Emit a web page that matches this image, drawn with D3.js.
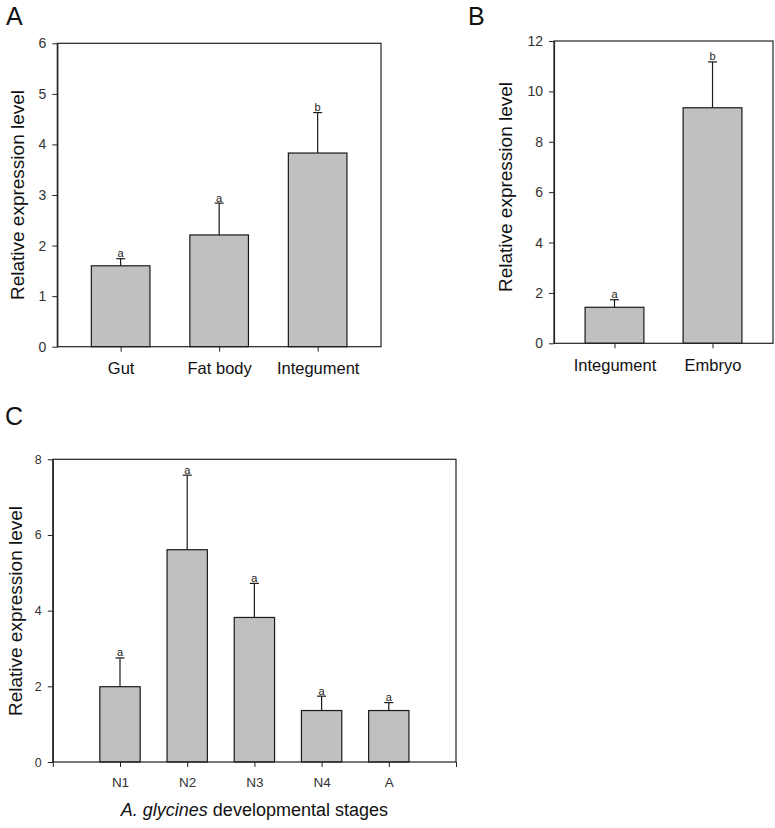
<!DOCTYPE html>
<html>
<head>
<meta charset="utf-8">
<script src="https://cdn.jsdelivr.net/npm/d3@7"></script>
<style>
  html, body { margin: 0; padding: 0; background: #fff; }
  svg { display: block; font-family: "Liberation Sans", Arial, sans-serif; }
</style>
</head>
<body>
<svg id="chart" width="775" height="828"></svg>
<script>
// ---- Data ----
const catsA = ["Gut", "Fat body", "Integument"];
const valsA = [1.60, 2.21, 3.83];
const errA = [0.14, 0.63, 0.80];
const lettersA = ["a", "a", "b"];
const ticksA = [0, 1, 2, 3, 4, 5, 6];

const catsB = ["Integument", "Embryo"];
const valsB = [1.43, 9.35];
const errB = [0.30, 1.82];
const lettersB = ["a", "b"];
const ticksB = [0, 2, 4, 6, 8, 10, 12];

const catsC = ["N1", "N2", "N3", "N4", "A"];
const valsC = [1.99, 5.61, 3.82, 1.36, 1.36];
const errC = [0.76, 1.97, 0.90, 0.38, 0.21];
const lettersC = ["a", "a", "a", "a", "a"];
const ticksC = [0, 2, 4, 6, 8];

const yTitle = "Relative expression level";

const svg = d3.select("#chart");
const AXIS = "#222";
const TXT = "#333";

function drawYAxis(g, y, ticks, left, fontSize) {
  const ax = d3.axisLeft(y).tickValues(ticks).tickSize(5).tickSizeOuter(0).tickPadding(6).tickFormat(d3.format("d"));
  const ga = g.append("g").attr("transform", `translate(${left},0)`).call(ax);
  ga.selectAll("path").attr("stroke", AXIS).attr("stroke-width", 1.2);
  ga.selectAll("line").attr("stroke", AXIS);
  ga.selectAll("text").attr("fill", TXT).style("font-size", fontSize + "px").style("font-family", "Liberation Sans, Arial, sans-serif");
}

function drawBars(g, data, xPos, y, barW) {
  // bars
  g.selectAll("rect.bar").data(data).enter().append("rect")
    .attr("class", "bar")
    .attr("x", d => xPos(d) - barW / 2)
    .attr("width", barW)
    .attr("y", d => y(d.v))
    .attr("height", d => y(0) - y(d.v))
    .attr("fill", "#c0c0c0")
    .attr("stroke", "#1a1a1a")
    .attr("stroke-width", 1.2);
  // error bars
  g.selectAll("line.err").data(data).enter().append("line")
    .attr("class", "err")
    .attr("x1", d => xPos(d)).attr("x2", d => xPos(d))
    .attr("y1", d => y(d.v)).attr("y2", d => y(d.v + d.e))
    .attr("stroke", "#1a1a1a").attr("stroke-width", 1.2);
  g.selectAll("line.cap").data(data).enter().append("line")
    .attr("class", "cap")
    .attr("x1", d => xPos(d) - 4.5).attr("x2", d => xPos(d) + 4.5)
    .attr("y1", d => y(d.v + d.e)).attr("y2", d => y(d.v + d.e))
    .attr("stroke", "#1a1a1a").attr("stroke-width", 1.2);
  g.selectAll("text.sig").data(data).enter().append("text")
    .attr("class", "sig")
    .attr("x", d => xPos(d))
    .attr("y", d => y(d.v + d.e) - 1.5)
    .attr("text-anchor", "middle")
    .attr("fill", "#222")
    .style("font-size", "11px")
    .text(d => d.l);
}

function frame(g, x0, x1, y0, y1) {
  g.append("rect").attr("x", x0).attr("y", y1).attr("width", x1 - x0).attr("height", y0 - y1)
    .attr("fill", "none").attr("stroke", AXIS).attr("stroke-width", 1.2);
}

function yLabel(g, x, yc, size) {
  g.append("text").attr("transform", `translate(${x},${yc}) rotate(-90)`)
    .attr("text-anchor", "middle").attr("fill", "#111")
    .style("font-size", size + "px").text(yTitle);
}

// ---- Panel A ----
(function () {
  const g = svg.append("g");
  const L = 57.3, R = 381, T = 43.3, B = 346.7;
  const y = d3.scaleLinear().domain([0, 6]).range([B, T]);
  const x = d3.scalePoint().domain(catsA).range([L, R]).padding(0.643);
  const data = catsA.map((c, i) => ({ c, v: valsA[i], e: errA[i], l: lettersA[i] }));
  const barW = x.step() * 0.595;
  drawBars(g, data, d => x(d.c), y, barW);
  frame(g, L, R, B, T);
  drawYAxis(g, y, ticksA, L, 14);
  const ax = d3.axisBottom(x).tickSize(5).tickSizeOuter(0).tickPadding(10.8);
  const ga = g.append("g").attr("transform", `translate(0,${B})`).call(ax);
  ga.select("path").remove();
  ga.selectAll("line").attr("stroke", AXIS);
  ga.selectAll("text").attr("fill", "#111").style("font-size", "16.5px").style("font-family", "Liberation Sans, Arial, sans-serif");
  yLabel(g, 24, 195, 19);
  g.append("text").attr("x", 6).attr("y", 25).attr("fill", "#111").style("font-size", "25px").text("A");
})();

// ---- Panel B ----
(function () {
  const g = svg.append("g");
  const L = 554, R = 773, T = 41, B = 343.3;
  const y = d3.scaleLinear().domain([0, 12]).range([B, T]);
  const x = d3.scalePoint().domain(catsB).range([L, R]).padding(0.617);
  const data = catsB.map((c, i) => ({ c, v: valsB[i], e: errB[i], l: lettersB[i] }));
  const barW = x.step() * 0.6;
  drawBars(g, data, d => x(d.c), y, barW);
  frame(g, L, R, B, T);
  drawYAxis(g, y, ticksB, L, 14);
  const ax = d3.axisBottom(x).tickSize(5).tickSizeOuter(0).tickPadding(10.8);
  const ga = g.append("g").attr("transform", `translate(0,${B})`).call(ax);
  ga.select("path").remove();
  ga.selectAll("line").attr("stroke", AXIS);
  ga.selectAll("text").attr("fill", "#111").style("font-size", "16.5px").style("font-family", "Liberation Sans, Arial, sans-serif");
  yLabel(g, 512, 187, 19);
  g.append("text").attr("x", 468).attr("y", 25).attr("fill", "#111").style("font-size", "25px").text("B");
})();

// ---- Panel C ----
(function () {
  const g = svg.append("g");
  const L = 52.8, R = 456, T = 459.3, B = 762;
  const y = d3.scaleLinear().domain([0, 8]).range([B, T]);
  const x = d3.scaleLinear().domain([0, catsC.length + 1]).range([L, R]);
  const data = catsC.map((c, i) => ({ c, i: i + 1, v: valsC[i], e: errC[i], l: lettersC[i] }));
  const barW = (x(1) - x(0)) * 0.6;
  drawBars(g, data, d => x(d.i), y, barW);
  frame(g, L, R, B, T);
  drawYAxis(g, y, ticksC, L, 12.5);
  const tv = d3.range(0, catsC.length + 2);
  const ax = d3.axisBottom(x).tickValues(tv).tickSize(5).tickSizeOuter(0).tickPadding(10)
    .tickFormat(d => (d >= 1 && d <= catsC.length) ? catsC[d - 1] : "");
  const ga = g.append("g").attr("transform", `translate(0,${B})`).call(ax);
  ga.select("path").remove();
  ga.selectAll("line").attr("stroke", AXIS);
  ga.selectAll("text").attr("fill", TXT).style("font-size", "13.5px").style("font-family", "Liberation Sans, Arial, sans-serif");
  yLabel(g, 22, 611, 19);
  const t = g.append("text").attr("x", (L + R) / 2).attr("y", 816).attr("text-anchor", "middle")
    .attr("fill", "#111").style("font-size", "18px");
  t.append("tspan").style("font-style", "italic").text("A. glycines");
  t.append("tspan").text(" developmental stages");
  g.append("text").attr("x", 5).attr("y", 425).attr("fill", "#111").style("font-size", "25px").text("C");
})();
</script>
</body>
</html>
